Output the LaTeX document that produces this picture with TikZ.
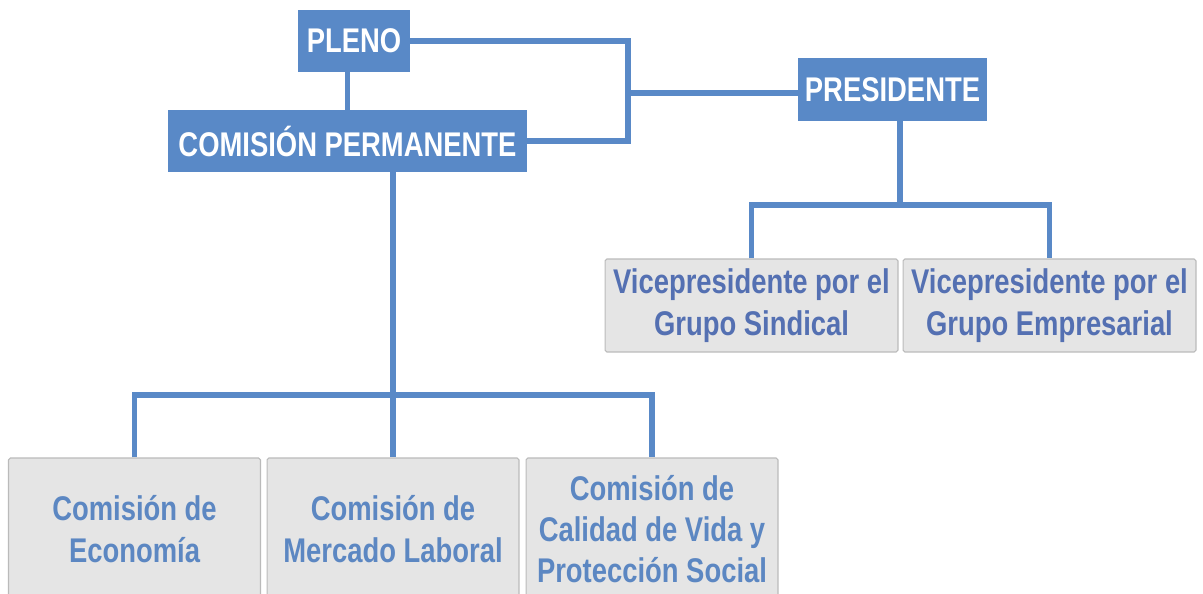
\documentclass[tikz,border=0pt]{standalone}
\usepackage{fontspec}
\newfontfamily\orgfont{Liberation Sans}[FakeStretch=0.8]
\usepackage{tikz}
\usetikzlibrary{calc}

\definecolor{orgblue}{RGB}{89,137,199}
\definecolor{orgtext}{RGB}{84,112,178}
\definecolor{comtext}{RGB}{92,135,194}
\definecolor{orggray}{RGB}{229,229,229}
\definecolor{orgedge}{RGB}{186,186,186}

\begin{document}
\begin{tikzpicture}[x=0.02cm,y=-0.02cm,
	headbox/.style={fill=orgblue,text=white,inner sep=0pt,minimum height=1.24cm,
		font=\orgfont\bfseries\fontsize{19.5}{23.5}\selectfont},
	vicebox/.style={fill=orggray,draw=orgedge,line width=0.6pt,rounded corners=1pt,inner sep=0pt,
		minimum width=5.86cm,minimum height=1.86cm,align=center,text=orgtext,
		font=\orgfont\bfseries\fontsize{19.5}{23.5}\selectfont},
	combox/.style={vicebox,minimum width=5.04cm,minimum height=2.84cm,text=comtext},
	link/.style={draw=orgblue,line width=3.3pt}]
	\useasboundingbox (0,0) rectangle (1203,594);
	\clip (0,0) rectangle (1203,594);
	% top of the chart
	\node[headbox,minimum width=2.24cm] (pleno) at (354,41) {PLENO};
	\node[headbox,minimum width=7.18cm] (perm) at (347.5,141) {COMISIÓN PERMANENTE};
	\node[headbox,minimum width=3.78cm,minimum height=1.26cm] (pres) at (892.5,89.5) {PRESIDENTE};
	\node[vicebox] (vsind) at (751.5,305.5) {Vicepresidente por el\\Grupo Sindical};
	\node[vicebox] (vemp) at (1049.5,305.5) {Vicepresidente por el\\Grupo Empresarial};
	% commissions
	\node[combox] (ceco) at (134.5,529) {Comisión de\\Economía};
	\node[combox] (cmer) at (393,529) {Comisión de\\Mercado Laboral};
	\node[combox] (ccal) at (652,529) {Comisión de\\Calidad de Vida y\\Protección Social};
	\coordinate (pjoin) at (628,93);
	\coordinate (vbus) at (900,205);
	\coordinate (cbus) at (393,395);
	\begin{scope}[link]
	\draw (perm.north |- pleno.south) -- (perm.north);
	\draw (pleno.east) -| (pjoin) |- (perm.east);
	\draw (pres.west |- pjoin) -- (pjoin);
	\draw (vbus |- pres.south) -- (vbus);
	\draw (vsind.north) |- (vbus) -| (vemp.north);
	\draw (cbus |- perm.south) -- (cmer.north);
	\draw (ceco.north) |- (cbus) -| (ccal.north);
	\end{scope}
\end{tikzpicture}
\end{document}
